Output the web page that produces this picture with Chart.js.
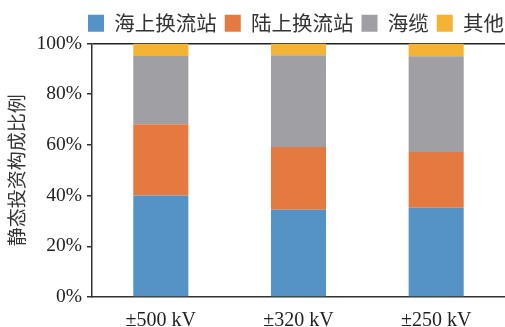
<!DOCTYPE html>
<html>
<head>
<meta charset="utf-8">
<script src="https://cdn.jsdelivr.net/npm/chart.js@4/dist/chart.umd.min.js"></script>
<style>
  html, body { margin: 0; padding: 0; background: #fff; }
  #wrap { width: 505px; height: 327px; }
</style>
</head>
<body>
<div id="wrap"><canvas id="costChart"></canvas></div>
<script>
var categories = ['±500 kV', '±320 kV', '±250 kV'];
var offshoreStation = [40, 34.4, 35.2];
var onshoreStation = [28.1, 24.8, 22];
var seaCable = [27, 36.2, 37.8];
var otherCost = [4.9, 4.6, 5];
var yTicks = [0, 20, 40, 60, 80, 100];

var cjkFont = '"Noto Sans CJK SC", sans-serif';
var serifFont = '"Liberation Serif", "Times New Roman", serif';

var ctx = document.getElementById('costChart').getContext('2d');
var costChart = new Chart(ctx, {
    type: 'bar',
    data: {
        labels: categories,
        datasets: [
            { label: '海上换流站', data: offshoreStation, backgroundColor: '#5592C6' },
            { label: '陆上换流站', data: onshoreStation, backgroundColor: '#E57A41' },
            { label: '海缆', data: seaCable, backgroundColor: '#A0A0A4' },
            { label: '其他', data: otherCost, backgroundColor: '#F5B335' }
        ]
    },
    options: {
        responsive: true,
        maintainAspectRatio: false,
        animation: false,
        datasets: {
            bar: { categoryPercentage: 1, barPercentage: 0.4 }
        },
        layout: { padding: { top: 5, left: 5, right: -7, bottom: 0 } },
        plugins: {
            legend: {
                align: 'end',
                labels: {
                    boxWidth: 16,
                    boxHeight: 17,
                    padding: 8,
                    color: '#333',
                    font: { family: cjkFont, size: 20.5 }
                }
            },
            tooltip: { enabled: false }
        },
        scales: {
            x: {
                stacked: true,
                grid: { display: false },
                border: { display: true, color: '#333', width: 1.5 },
                afterFit: function (scale) { scale.height = 30; },
                ticks: {
                    color: '#222',
                    padding: 4,
                    font: { family: serifFont, size: 20 }
                }
            },
            y: {
                stacked: true,
                min: 0,
                max: 100,
                afterBuildTicks: function (scale) {
                    scale.ticks = yTicks.map(function (v) { return { value: v }; });
                },
                afterFit: function (scale) { scale.width = 87; },
                grid: {
                    color: function (c) { return c.tick && c.tick.value === 100 ? '#222' : 'rgba(0,0,0,0)'; },
                    lineWidth: 1.5,
                    tickColor: '#333',
                    tickLength: 5
                },
                border: { display: true, color: '#333', width: 1.5 },
                ticks: {
                    color: '#222',
                    padding: 5,
                    font: { family: serifFont, size: 19.5 },
                    callback: function (v) { return v + '%'; }
                },
                title: {
                    display: true,
                    text: '静态投资构成比例',
                    color: '#333',
                    padding: { top: 0, bottom: 4 },
                    font: { family: cjkFont, size: 19 }
                }
            }
        }
    }
});
</script>
</body>
</html>
